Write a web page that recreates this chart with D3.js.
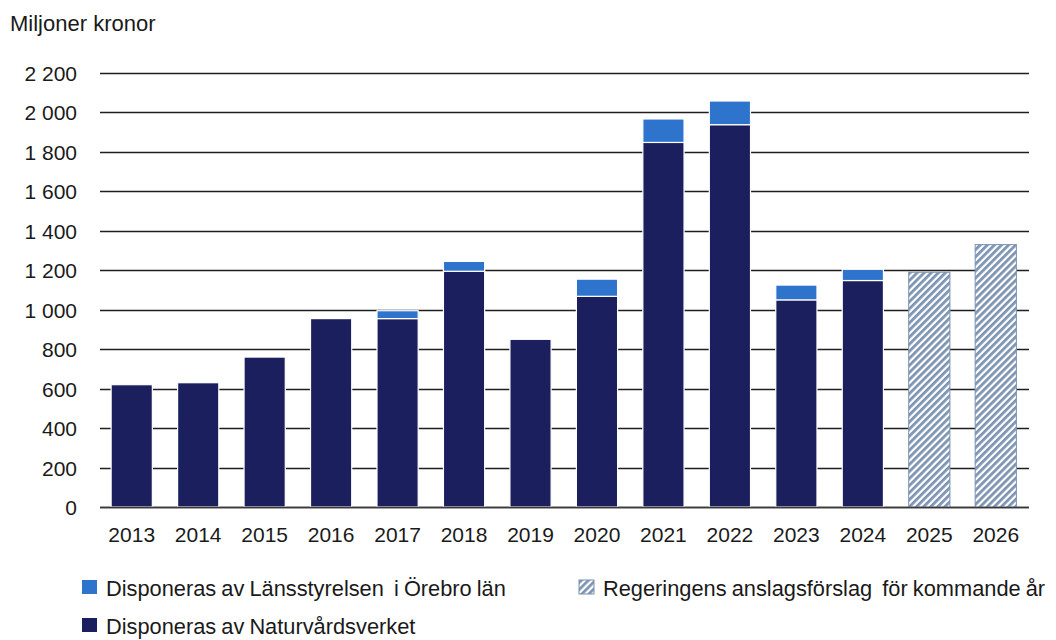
<!DOCTYPE html>
<html><head><meta charset="utf-8">
<script src="https://cdn.jsdelivr.net/npm/d3@7"></script>
<style>body{margin:0;background:#fff}svg{display:block}text{font-family:"Liberation Sans",Arial,sans-serif;fill:#1a1a1a;white-space:pre}</style>
</head><body><svg id="c" width="1056" height="640"></svg>
<script>
const years = ["2013","2014","2015","2016","2017","2018","2019","2020","2021","2022","2023","2024","2025","2026"];
const naturvard = [620,630,760,955,955,1195,850,1068,1848,1938,1050,1148,0,0];
const lansstyrelsen = [0,0,0,0,40,50,0,87,119,120,75,57,0,0];
const forslag = [0,0,0,0,0,0,0,0,0,0,0,0,1190,1330];
const yTicks = [0,200,400,600,800,1000,1200,1400,1600,1800,2000,2200];
const seriesNames = ["Disponeras av Länsstyrelsen  i Örebro län","Regeringens anslagsförslag  för kommande år","Disponeras av Naturvårdsverket"];
const colors = {nat:"#1b1f5e", lan:"#2e74cc", hatch:"#7d94b3"};

const svg = d3.select("#c");
const defs = svg.append("defs");
const pat = defs.append("pattern").attr("id","hatch").attr("patternUnits","userSpaceOnUse")
  .attr("width",5).attr("height",5).attr("patternTransform","rotate(45)");
pat.append("rect").attr("width",5).attr("height",5).attr("fill","#ffffff");
pat.append("rect").attr("width",2.8).attr("height",5).attr("fill",colors.hatch);

const x = d3.scaleBand().domain(years).range([98.5,1029]).paddingInner(0.38).paddingOuter(0.19);
const y = d3.scaleLinear().domain([0,2200]).range([507,73]);
const fmt = v => d3.format(",")(v).replace(/,/g," ");

// gridlines
svg.append("g").selectAll("line").data(yTicks).join("line")
  .attr("x1",100).attr("x2",1029).attr("y1",d=>Math.round(y(d))+0.5).attr("y2",d=>Math.round(y(d))+0.5)
  .attr("stroke","#1f1f1f").attr("stroke-width",1.5);

// y labels
svg.append("g").selectAll("text").data(yTicks).join("text")
  .attr("x",77).attr("y",d=>y(d)+8).attr("text-anchor","end").attr("font-size",21).text(fmt);

svg.append("text").attr("x",10).attr("y",31).attr("font-size",22).text("Miljoner kronor");

const bw = x.bandwidth();
// Naturvårdsverket
svg.append("g").selectAll("rect").data(years.map((yr,i)=>({yr,v:naturvard[i]})).filter(d=>d.v>0)).join("rect")
  .attr("x",d=>x(d.yr)).attr("width",bw).attr("y",d=>y(d.v)).attr("height",d=>y(0)-y(d.v))
  .attr("fill",colors.nat).attr("stroke","#ffffff").attr("stroke-width",1.2);
// Länsstyrelsen
svg.append("g").selectAll("rect").data(years.map((yr,i)=>({yr,b:naturvard[i],v:lansstyrelsen[i]})).filter(d=>d.v>0)).join("rect")
  .attr("x",d=>x(d.yr)).attr("width",bw).attr("y",d=>y(d.b+d.v)).attr("height",d=>y(d.b)-y(d.b+d.v))
  .attr("fill",colors.lan).attr("stroke","#ffffff").attr("stroke-width",1.2);
// Förslag
svg.append("g").selectAll("rect").data(years.map((yr,i)=>({yr,v:forslag[i]})).filter(d=>d.v>0)).join("rect")
  .attr("x",d=>x(d.yr)).attr("width",bw).attr("y",d=>y(d.v)).attr("height",d=>y(0)-y(d.v))
  .attr("fill","url(#hatch)").attr("stroke","#7a91b0").attr("stroke-width",1);

// baseline on top
svg.append("line").attr("x1",100).attr("x2",1029).attr("y1",Math.round(y(0))+0.5).attr("y2",Math.round(y(0))+0.5)
  .attr("stroke","#3a3a3a").attr("stroke-width",1.5);

// x labels
svg.append("g").selectAll("text").data(years).join("text")
  .attr("x",d=>x(d)+bw/2).attr("y",542).attr("text-anchor","middle").attr("font-size",21).text(d=>d);

// legend
const leg = [
  {x:82,y:580,fill:colors.lan,label:seriesNames[0]},
  {x:579,y:580,fill:"url(#hatch)",label:seriesNames[1],stroke:"#7a91b0"},
  {x:82,y:618,fill:colors.nat,label:seriesNames[2]}
];
const lg = svg.append("g").selectAll("g").data(leg).join("g");
lg.append("rect").attr("x",d=>d.x).attr("y",d=>d.y).attr("width",15).attr("height",14)
  .attr("fill",d=>d.fill).attr("stroke",d=>d.stroke||"none");
lg.append("text").attr("x",d=>d.x+24).attr("y",d=>d.y+16).attr("font-size",21.8).attr("word-spacing",-1).text(d=>d.label);
</script></body></html>
